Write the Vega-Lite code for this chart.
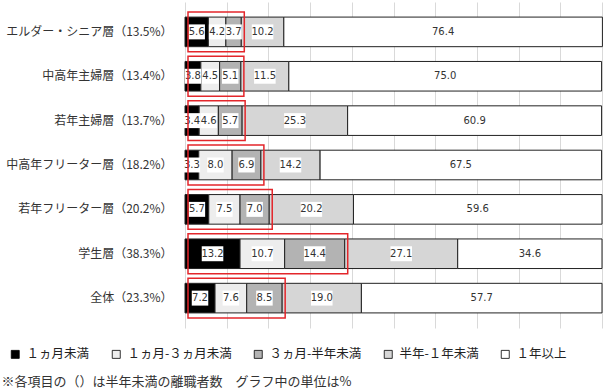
{
  "$schema": "https://vega.github.io/schema/vega-lite/v6.json",
  "width": 417,
  "height": 326,
  "autosize": {"type": "none"},
  "padding": {"left": 185, "top": 2, "right": 7, "bottom": 64},
  "background": "white",
  "config": {
    "view": {"stroke": null},
    "font": "Noto Sans CJK JP"
  },
  "datasets": {
    "segs": [
      {"group": "エルダー・シニア層（13.5%）", "cat": "１ヵ月未満", "k": 1, "value": 5.6},
      {"group": "エルダー・シニア層（13.5%）", "cat": "１ヵ月-３ヵ月未満", "k": 2, "value": 4.2},
      {"group": "エルダー・シニア層（13.5%）", "cat": "３ヵ月-半年未満", "k": 3, "value": 3.7},
      {"group": "エルダー・シニア層（13.5%）", "cat": "半年-１年未満", "k": 4, "value": 10.2},
      {"group": "エルダー・シニア層（13.5%）", "cat": "１年以上", "k": 5, "value": 76.4},
      {"group": "中高年主婦層（13.4%）", "cat": "１ヵ月未満", "k": 1, "value": 3.8},
      {"group": "中高年主婦層（13.4%）", "cat": "１ヵ月-３ヵ月未満", "k": 2, "value": 4.5},
      {"group": "中高年主婦層（13.4%）", "cat": "３ヵ月-半年未満", "k": 3, "value": 5.1},
      {"group": "中高年主婦層（13.4%）", "cat": "半年-１年未満", "k": 4, "value": 11.5},
      {"group": "中高年主婦層（13.4%）", "cat": "１年以上", "k": 5, "value": 75.0},
      {"group": "若年主婦層（13.7%）", "cat": "１ヵ月未満", "k": 1, "value": 3.4},
      {"group": "若年主婦層（13.7%）", "cat": "１ヵ月-３ヵ月未満", "k": 2, "value": 4.6},
      {"group": "若年主婦層（13.7%）", "cat": "３ヵ月-半年未満", "k": 3, "value": 5.7},
      {"group": "若年主婦層（13.7%）", "cat": "半年-１年未満", "k": 4, "value": 25.3},
      {"group": "若年主婦層（13.7%）", "cat": "１年以上", "k": 5, "value": 60.9},
      {"group": "中高年フリーター層（18.2%）", "cat": "１ヵ月未満", "k": 1, "value": 3.3},
      {"group": "中高年フリーター層（18.2%）", "cat": "１ヵ月-３ヵ月未満", "k": 2, "value": 8.0},
      {"group": "中高年フリーター層（18.2%）", "cat": "３ヵ月-半年未満", "k": 3, "value": 6.9},
      {"group": "中高年フリーター層（18.2%）", "cat": "半年-１年未満", "k": 4, "value": 14.2},
      {"group": "中高年フリーター層（18.2%）", "cat": "１年以上", "k": 5, "value": 67.5},
      {"group": "若年フリーター層（20.2%）", "cat": "１ヵ月未満", "k": 1, "value": 5.7},
      {"group": "若年フリーター層（20.2%）", "cat": "１ヵ月-３ヵ月未満", "k": 2, "value": 7.5},
      {"group": "若年フリーター層（20.2%）", "cat": "３ヵ月-半年未満", "k": 3, "value": 7.0},
      {"group": "若年フリーター層（20.2%）", "cat": "半年-１年未満", "k": 4, "value": 20.2},
      {"group": "若年フリーター層（20.2%）", "cat": "１年以上", "k": 5, "value": 59.6},
      {"group": "学生層（38.3%）", "cat": "１ヵ月未満", "k": 1, "value": 13.2},
      {"group": "学生層（38.3%）", "cat": "１ヵ月-３ヵ月未満", "k": 2, "value": 10.7},
      {"group": "学生層（38.3%）", "cat": "３ヵ月-半年未満", "k": 3, "value": 14.4},
      {"group": "学生層（38.3%）", "cat": "半年-１年未満", "k": 4, "value": 27.1},
      {"group": "学生層（38.3%）", "cat": "１年以上", "k": 5, "value": 34.6},
      {"group": "全体（23.3%）", "cat": "１ヵ月未満", "k": 1, "value": 7.2},
      {"group": "全体（23.3%）", "cat": "１ヵ月-３ヵ月未満", "k": 2, "value": 7.6},
      {"group": "全体（23.3%）", "cat": "３ヵ月-半年未満", "k": 3, "value": 8.5},
      {"group": "全体（23.3%）", "cat": "半年-１年未満", "k": 4, "value": 19.0},
      {"group": "全体（23.3%）", "cat": "１年以上", "k": 5, "value": 57.7}
    ],
    "boxes": [
      {"group": "エルダー・シニア層（13.5%）", "half": 13.5},
      {"group": "中高年主婦層（13.4%）", "half": 13.4},
      {"group": "若年主婦層（13.7%）", "half": 13.7},
      {"group": "中高年フリーター層（18.2%）", "half": 18.2},
      {"group": "若年フリーター層（20.2%）", "half": 20.2},
      {"group": "学生層（38.3%）", "half": 38.3},
      {"group": "全体（23.3%）", "half": 23.3}
    ]
  },
  "encoding": {
    "y": {
      "field": "group",
      "type": "nominal",
      "sort": null,
      "title": null,
      "scale": {
        "domain": ["エルダー・シニア層（13.5%）", "中高年主婦層（13.4%）", "若年主婦層（13.7%）", "中高年フリーター層（18.2%）", "若年フリーター層（20.2%）", "学生層（38.3%）", "全体（23.3%）"],
        "paddingInner": 0.333,
        "paddingOuter": 0.34
      },
      "axis": {
        "domain": false,
        "ticks": false,
        "labelPadding": 13,
        "labelFont": "Noto Sans CJK JP",
        "labelFontSize": 12,
        "labelColor": "#333333",
        "labelLimit": 400
      }
    }
  },
  "layer": [
    {
      "data": {"name": "segs"},
      "transform": [
        {"stack": "value", "groupby": ["group"], "sort": [{"field": "k", "order": "ascending"}], "as": ["x0", "x1"]}
      ],
      "mark": {"type": "bar", "stroke": "#222222", "strokeWidth": 1},
      "encoding": {
        "x": {
          "field": "x0",
          "type": "quantitative",
          "scale": {"domain": [0, 100], "nice": false},
          "title": "※各項目の（）は半年未満の離職者数　グラフ中の単位は%",
          "axis": {
            "labels": false,
            "ticks": false,
            "domain": false,
            "grid": true,
            "gridColor": "#d9d9d9",
            "gridWidth": 1,
            "values": [0, 10, 20, 30, 40, 50, 60, 70, 80, 90, 100],
            "titleX": -184,
            "titleY": 47,
            "titleAnchor": "start",
            "titleAlign": "left",
            "titleBaseline": "top",
            "titleFont": "Noto Sans CJK JP",
            "titleFontSize": 13,
            "titleFontWeight": "normal",
            "titleColor": "#333333",
            "titleLimit": 700
          }
        },
        "x2": {"field": "x1"},
        "color": {
          "field": "cat",
          "type": "nominal",
          "sort": null,
          "scale": {
            "domain": ["１ヵ月未満", "１ヵ月-３ヵ月未満", "３ヵ月-半年未満", "半年-１年未満", "１年以上"],
            "range": ["#000000", "#ededed", "#b3b3b3", "#d6d6d6", "#ffffff"]
          },
          "legend": {
            "orient": "none",
            "legendX": -176,
            "legendY": 346,
            "direction": "horizontal",
            "title": null,
            "symbolType": "square",
            "symbolSize": 64,
            "symbolStrokeColor": "#000000",
            "symbolStrokeWidth": 0.8,
            "labelFont": "Noto Sans CJK JP",
            "labelFontSize": 12.5,
            "labelColor": "#222222",
            "labelOffset": 5,
            "columnPadding": 20,
            "labelLimit": 300
          }
        }
      }
    },
    {
      "data": {"name": "segs"},
      "transform": [
        {"stack": "value", "groupby": ["group"], "sort": [{"field": "k", "order": "ascending"}], "as": ["x0", "x1"]},
        {"calculate": "(datum.x0 + datum.x1) / 2", "as": "xm"},
        {"calculate": "length(format(datum.value, '.1f'))", "as": "len"}
      ],
      "mark": {"type": "point", "filled": true, "fill": "white", "opacity": 1, "strokeWidth": 0, "size": 484},
      "encoding": {
        "x": {"field": "xm", "type": "quantitative"},
        "shape": {
          "field": "len",
          "type": "nominal",
          "scale": {
            "domain": [3, 4],
            "range": ["M-0.75,-0.68L0.75,-0.68L0.75,0.68L-0.75,0.68Z", "M-0.98,-0.68L0.98,-0.68L0.98,0.68L-0.98,0.68Z"]
          },
          "legend": null
        }
      }
    },
    {
      "data": {"name": "segs"},
      "transform": [
        {"stack": "value", "groupby": ["group"], "sort": [{"field": "k", "order": "ascending"}], "as": ["x0", "x1"]},
        {"calculate": "(datum.x0 + datum.x1) / 2", "as": "xm"}
      ],
      "mark": {"type": "text", "font": "DejaVu Sans", "fontSize": 10, "color": "#333333", "baseline": "middle", "align": "center"},
      "encoding": {
        "x": {"field": "xm", "type": "quantitative"},
        "text": {"field": "value", "type": "quantitative", "format": ".1f"}
      }
    },
    {
      "data": {"name": "boxes"},
      "mark": {"type": "bar", "filled": false, "fill": null, "stroke": "#e3262b", "strokeWidth": 1.5, "height": {"band": 1.35}, "xOffset": 3, "x2Offset": -2},
      "encoding": {
        "x": {"field": "half", "type": "quantitative"}
      }
    }
  ]
}
